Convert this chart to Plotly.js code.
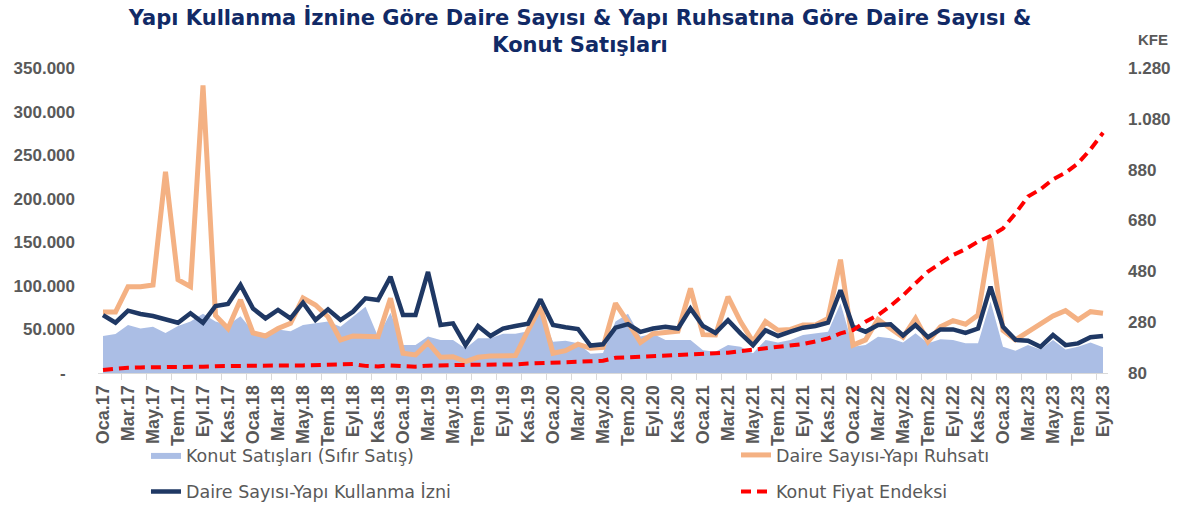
<!DOCTYPE html>
<html>
<head>
<meta charset="utf-8">
<script src="https://cdn.plot.ly/plotly-3.0.1.min.js"></script>
<style>
  html, body { margin: 0; padding: 0; background: #ffffff; }
  #chart { width: 1191px; height: 509px; }
</style>
</head>
<body>
<svg width="0" height="0" style="position:absolute">
  <defs>
    <filter id="golge" filterUnits="userSpaceOnUse" x="-200" y="-200" width="1600" height="900">
      <feGaussianBlur in="SourceAlpha" stdDeviation="1.6"/>
      <feOffset dx="2" dy="3" result="ofs"/>
      <feComponentTransfer><feFuncA type="linear" slope="0.28"/></feComponentTransfer>
      <feMerge><feMergeNode/><feMergeNode in="SourceGraphic"/></feMerge>
    </filter>
  </defs>
</svg>
<div id="chart"></div>
<script>
// ---- Categories (months, Oca.17 ... Eyl.23) ----
const ayAdlari = ['Oca','Şub','Mar','Nis','May','Haz','Tem','Ağu','Eyl','Eki','Kas','Ara'];
const yillar = ['17','18','19','20','21','22','23'];
const aylar = [];
yillar.forEach(y => ayAdlari.forEach(m => aylar.push(m + '.' + y)));
aylar.length = 81;

// ---- Series values ----
const konutSatislari = [
  42500, 44800, 55000, 51000, 53000, 46000, 54000, 59000, 68000, 59000, 55000, 65000,
  48000, 45000, 50000, 48000, 55000, 57000, 59000, 53000, 64000, 76000, 42000, 69000,
  32000, 32000, 42000, 38000, 38000, 28000, 40000, 40000, 45000, 45000, 48000, 70000,
  36000, 37000, 34000, 22000, 23000, 59000, 68000, 42000, 45000, 38000, 38000, 38000,
  26000, 24500, 32000, 30000, 22600, 38000, 35000, 38000, 43600, 45500, 47400, 80000,
  30000, 32000, 41700, 39800, 35000, 45500, 34000, 38700, 38000, 34000, 34000, 82000,
  30000, 25600, 32000, 27000, 38000, 27000, 30000, 35000, 29500
];
const yapiRuhsati = [
  70000, 70000, 99000, 99000, 101000, 231000, 107000, 99000, 330000, 66000, 51000, 84000,
  46000, 42500, 51000, 57000, 86000, 78000, 64600, 38000, 42500, 41700, 41700, 85700,
  22600, 20700, 34800, 18000, 18700, 13000, 18000, 19500, 19500, 20000, 49000, 76000,
  22600, 25600, 33000, 28300, 29500, 80000, 58000, 35000, 45000, 47000, 48000, 97000,
  44000, 43600, 87600, 59000, 36000, 59000, 49000, 50000, 55000, 55000, 62700, 130000,
  32000, 38000, 61600, 51000, 41000, 62700, 36000, 53000, 60000, 56000, 66500, 154500,
  49000, 38000, 47400, 56000, 65400, 71500, 61000, 70400, 68500
];
const yapiKullanmaIzni = [
  66500, 57700, 71500, 67700, 65400, 61600, 57700, 68500, 57700, 76900, 79200, 101000,
  74000, 62700, 72300, 62700, 80700, 60800, 73000, 60800, 70400, 85700, 83800, 110500,
  66600, 66600, 116000, 55000, 57000, 32000, 54000, 42500, 51000, 54000, 56500, 84500,
  55000, 52500, 50500, 31500, 33000, 52000, 56000, 47200, 51000, 53000, 51000, 74000,
  54000, 46000, 60500, 45500, 32000, 49000, 42500, 47400, 52000, 54000, 57700, 95000,
  53000, 47400, 55000, 56000, 43000, 55000, 41000, 50000, 50000, 46000, 51000, 99000,
  53000, 38000, 37000, 30000, 43600, 32000, 34000, 41000, 42500
];
const konutFiyatEndeksi = [
  92, 98, 101, 102, 102, 102, 102, 103, 105, 107, 108, 109,
  109, 109, 109, 110, 110, 112, 114, 116, 115, 108, 106, 110,
  106, 105, 109, 111, 111, 112, 112, 112, 112, 114, 117, 118,
  119, 121, 124, 126, 128, 140, 142, 144, 147, 150, 152, 154,
  155, 157, 160, 166, 172, 178, 183, 188, 194, 204, 216, 236,
  249, 282, 308, 344, 385, 433, 479, 512, 544, 567, 597, 619,
  649, 708, 774, 803, 842, 868, 905, 960, 1025
];

// ---- Tick labels ----
const xTickLabels = aylar.filter((_, i) => i % 2 === 0);
const yTickVals = [0, 50000, 100000, 150000, 200000, 250000, 300000, 350000];
const yTickText = ['-\u00a0\u00a0', '50.000', '100.000', '150.000', '200.000', '250.000', '300.000', '350.000'];
const y2TickVals = [80, 280, 480, 680, 880, 1080, 1280];
const y2TickText = ['80', '280', '480', '680', '880', '1.080', '1.280'];

const tickFont = { family: 'Liberation Sans, Arial, sans-serif', size: 17, color: '#595959', weight: 'bold' };
const xTickFont = { family: 'Liberation Sans, Arial, sans-serif', size: 18, color: '#595959', weight: 'bold' };
const legendFont = { family: 'DejaVu Sans, sans-serif', size: 17.5, color: '#595959' };

const traces = [
  {
    name: 'Konut Satışları (Sıfır Satış)', x: aylar, y: konutSatislari, type: 'scatter', mode: 'lines',
    fill: 'tozeroy', fillcolor: '#abbee5', line: { width: 0, color: '#abbee5' }, legend: 'legend'
  },
  {
    name: 'Daire Sayısı-Yapı Ruhsatı', x: aylar, y: yapiRuhsati, type: 'scatter', mode: 'lines',
    line: { color: '#f4b183', width: 5 }, legend: 'legend2'
  },
  {
    name: 'Daire Sayısı-Yapı Kullanma İzni', x: aylar, y: yapiKullanmaIzni, type: 'scatter', mode: 'lines',
    line: { color: '#1f3864', width: 4.5 }, legend: 'legend3'
  },
  {
    name: 'Konut Fiyat Endeksi', x: aylar, y: konutFiyatEndeksi, type: 'scatter', mode: 'lines', yaxis: 'y2',
    line: { color: '#ff0000', width: 4, dash: '10px,6px' }, legend: 'legend4'
  }
];

function legendBox(x, y) {
  return { x: x, y: y, xref: 'paper', yref: 'container', xanchor: 'left', yanchor: 'middle',
           bgcolor: 'rgba(0,0,0,0)', borderwidth: 0, font: legendFont, orientation: 'v' };
}

const layout = {
  width: 1191, height: 509,
  margin: { l: 98, r: 83, t: 68, b: 136 },
  paper_bgcolor: '#ffffff', plot_bgcolor: '#ffffff',
  showlegend: true,
  title: {
    text: 'Yapı Kullanma İznine Göre Daire Sayısı &amp; Yapı Ruhsatına Göre Daire Sayısı &amp;<br>Konut Satışları',
    font: { family: 'DejaVu Sans, sans-serif', size: 21, color: '#112a66', weight: 'bold' },
    x: 0.487, xref: 'container', xanchor: 'center',
    y: 0.951, yref: 'container', yanchor: 'top'
  },
  xaxis: {
    type: 'category', categoryorder: 'array', categoryarray: aylar,
    range: [-0.4, 80.4], tickvals: xTickLabels, ticktext: xTickLabels,
    tickangle: -90, tickfont: xTickFont, ticks: 'outside', tickson: 'boundaries',
    ticklen: 6, tickcolor: '#d9d9d9', showline: true, linecolor: '#d9d9d9', linewidth: 1,
    showgrid: false, zeroline: false, fixedrange: true, ticklabelstandoff: 4, automargin: false
  },
  yaxis: {
    range: [0, 350000], tickvals: yTickVals, ticktext: yTickText, tickfont: tickFont,
    showgrid: false, zeroline: false, showline: false, ticks: '', ticklabelstandoff: 22, fixedrange: true,
    automargin: false
  },
  yaxis2: {
    overlaying: 'y', side: 'right', range: [80, 1280], tickvals: y2TickVals, ticktext: y2TickText,
    tickfont: tickFont, showgrid: false, zeroline: false, showline: false, ticks: '', ticklabelstandoff: 19,
    fixedrange: true, automargin: false
  },
  legend: legendBox(0.0475, 0.106),
  legend2: legendBox(0.6317, 0.106),
  legend3: legendBox(0.0475, 0.034),
  legend4: legendBox(0.6317, 0.034),
  annotations: [
    { text: 'KFE', xref: 'paper', yref: 'paper', x: 1.0446, y: 1.092, xanchor: 'center', yanchor: 'middle',
      showarrow: false,
      font: { family: 'Liberation Sans, Arial, sans-serif', size: 15, color: '#595959', weight: 'bold' } }
  ]
};

Plotly.newPlot('chart', traces, layout, { staticPlot: true, displayModeBar: false }).then(() => {
  document.querySelectorAll('#chart .plot .scatterlayer .js-line').forEach(p => {
    p.setAttribute('filter', 'url(#golge)');
  });
});
</script>
</body>
</html>
